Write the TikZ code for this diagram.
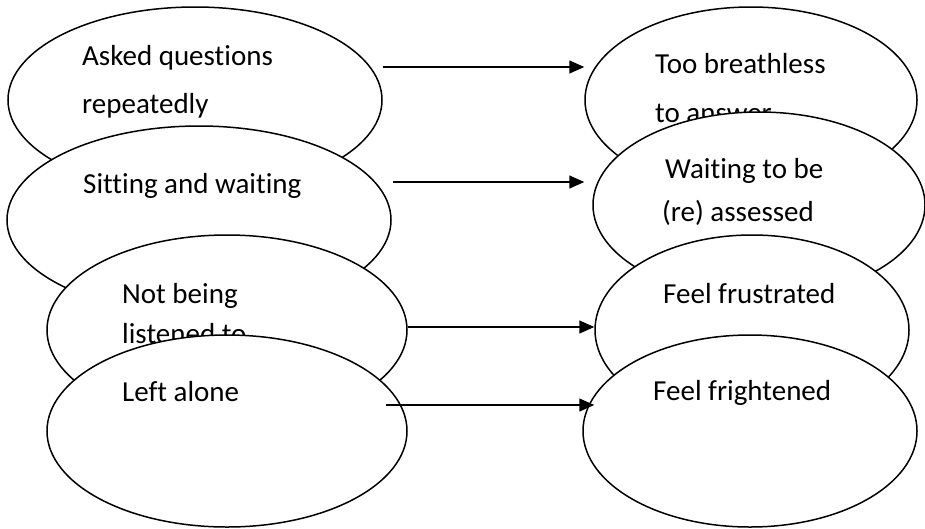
\documentclass[tikz,border=0pt]{standalone}
\usepackage{fontspec}
\setmainfont{Carlito}[Ligatures={NoCommon}]
\usetikzlibrary{shapes.geometric,arrows.meta,calc}
\tikzset{
  bubble/.style={ellipse, draw=black, fill=white, line width=1.5pt, inner sep=0pt},
  lbl/.style={anchor=base west, inner sep=0pt, font=\fontsize{29}{35}\selectfont},
  arr/.style={line width=1.5pt, -{Triangle[length=15pt,width=13pt]}}
}
\begin{document}
\begin{tikzpicture}[x=1pt,y=-1pt]
\useasboundingbox (0,0) rectangle (925,528);
% row 1
\node[bubble, minimum width=374pt, minimum height=186pt] (A) at (195,100) {};
\node[lbl] (ta1) at (82,65) {Asked questions};
\node[lbl] (ta2) at (82,113) {repeatedly};
\node[bubble, minimum width=332pt, minimum height=186pt] (E) at (751,100) {};
\node[lbl] (te1) at (655,73) {Too breathless};
\node[lbl] (te2) at (655,122) {to answer};
% row 2
\node[bubble, minimum width=384pt, minimum height=188pt] (B) at (199,220) {};
\node[lbl] (tb1) at (83,193) {Sitting and waiting};
\node[bubble, minimum width=332pt, minimum height=186pt] (F) at (759,205) {};
\node[lbl] (tf1) at (665,178) {Waiting to be};
\node[lbl] (tf2) at (662,221) {(re) assessed};
% row 3
\node[bubble, minimum width=360pt, minimum height=190pt] (C) at (227,330) {};
\node[lbl] (tc1) at (122,303) {Not being};
\node[lbl] (tc2) at (122,343) {listened to};
\node[bubble, minimum width=314pt, minimum height=190pt] (G) at (752,330) {};
\node[lbl] (tg1) at (663,303) {Feel frustrated};
% row 4
\node[bubble, minimum width=360pt, minimum height=192pt] (D) at (227,431) {};
\node[lbl] (td1) at (122,401) {Left alone};
\node[bubble, minimum width=334pt, minimum height=192pt] (H) at (750,431) {};
\node[lbl] (th1) at (653,400) {Feel frightened};
% arrows
\draw[arr] ($(A.east)+(0,-33)$) -- ($(E.west)+(0,-33)$);
\draw[arr] ($(B.east)+(1,-38)$) -- ($(F.west)+(-8,-23)$);
\draw[arr] ($(C.east)+(0,-3)$) -- ($(G.west)+(0,-3)$);
\draw[arr] ($(D.east)+(-22,-26)$) -- ($(H.west)+(12,-26)$);
\end{tikzpicture}
\end{document}
